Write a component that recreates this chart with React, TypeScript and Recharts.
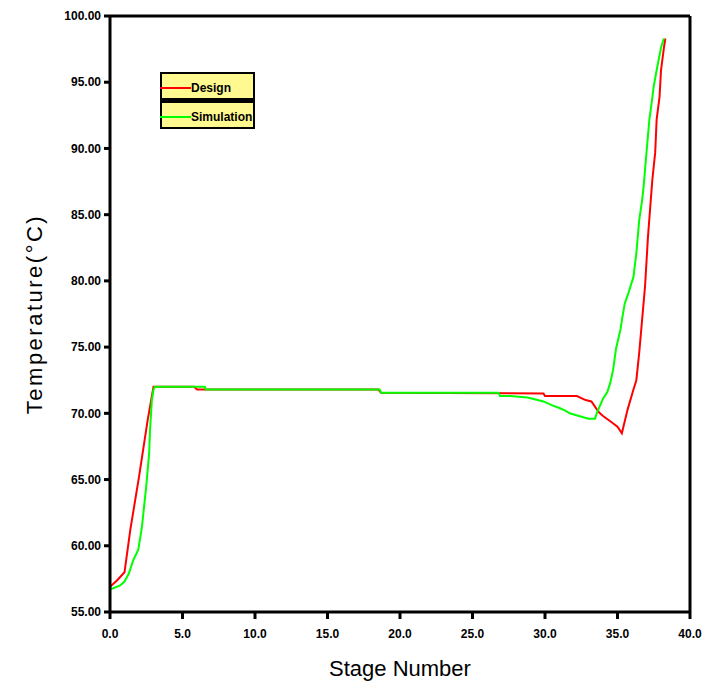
import { LineChart, Line, XAxis, YAxis, Legend, Label } from 'recharts';

// stage positions and temperatures
const designStage = [0, 0.5, 1.0, 1.4, 2.0, 2.6, 3.0, 5.8, 6.0, 18.5, 18.7, 29.9, 30.0, 32.2, 32.8, 33.2, 33.7, 34.0, 34.5, 35.0, 35.3, 35.7, 36.1, 36.3, 36.5, 36.7, 36.9, 37.1, 37.4, 37.6, 37.7, 37.9, 38.0, 38.2, 38.3];
const designTemp = [56.9, 57.4, 58.0, 61.2, 65.2, 69.5, 72.0, 72.0, 71.8, 71.8, 71.55, 71.5, 71.3, 71.3, 71.0, 70.9, 70.1, 69.8, 69.4, 69.0, 68.5, 70.3, 71.8, 72.5, 74.6, 77.1, 79.6, 83.3, 87.6, 89.7, 92.2, 93.9, 95.9, 97.6, 98.3];

const simStage = [0, 0.7, 1.0, 1.3, 1.6, 1.95, 2.2, 2.5, 2.7, 2.76, 2.88, 3.0, 3.1, 6.55, 6.6, 18.6, 18.7, 26.8, 26.9, 27.6, 28.8, 29.9, 30.5, 31.0, 31.4, 31.7, 33.0, 33.45, 33.6, 33.8, 34.0, 34.3, 34.5, 34.7, 34.9, 35.2, 35.3, 35.5, 35.7, 36.1, 36.3, 36.5, 36.7, 36.8, 37.0, 37.2, 37.35, 37.5, 37.7, 38.0, 38.2];
const simTemp = [56.7, 57.0, 57.3, 57.9, 58.9, 59.7, 61.4, 64.5, 67.0, 68.7, 70.9, 71.8, 72.0, 72.0, 71.8, 71.8, 71.55, 71.55, 71.3, 71.3, 71.2, 70.9, 70.6, 70.4, 70.2, 70.0, 69.6, 69.6, 70.1, 70.6, 71.1, 71.6, 72.3, 73.3, 74.9, 76.3, 77.0, 78.3, 78.9, 80.3, 82.1, 84.6, 86.1, 87.1, 89.7, 92.2, 93.4, 94.7, 95.9, 97.6, 98.3];

const xTicks = [0, 5, 10, 15, 20, 25, 30, 35, 40];
const yTicks = [55, 60, 65, 70, 75, 80, 85, 90, 95, 100];

const designData = designStage.map((s, i) => ({ stage: s, temp: designTemp[i] }));
const simData = simStage.map((s, i) => ({ stage: s, temp: simTemp[i] }));

const tickStyle = { fontFamily: 'Liberation Sans, Arial, sans-serif', fontSize: 12, fontWeight: 700, fill: '#000' };

function LegendBox({ payload }: any) {
  return (
    <div style={{ border: '2px solid #000', background: '#000', width: 91, fontFamily: 'Liberation Sans, Arial, sans-serif' }}>
      {(payload || []).map((p: any, i: number) => (
        <div
          key={p.value}
          style={{
            background: '#fff98f',
            height: 24,
            marginTop: i === 0 ? 0 : 5,
            display: 'flex',
            alignItems: 'center',
            paddingTop: 3,
            boxSizing: 'border-box',
          }}
        >
          <span style={{ display: 'inline-block', width: 31, height: 2, background: p.color, marginLeft: -2 }} />
          <span style={{ fontSize: 12, fontWeight: 700, color: '#000', lineHeight: '12px' }}>{p.value}</span>
        </div>
      ))}
    </div>
  );
}

export default function App() {
  return (
    <div style={{ position: 'absolute', left: 0, top: 0, background: '#fff' }}>
      <LineChart width={710} height={688} margin={{ top: 15, right: 19, left: 0, bottom: 0 }}>
        <XAxis
          dataKey="stage"
          type="number"
          domain={[0, 40]}
          ticks={xTicks}
          tickFormatter={(v) => v.toFixed(1)}
          height={76}
          tick={tickStyle}
          tickSize={7}
          tickMargin={10}
          axisLine={{ stroke: '#000', strokeWidth: 3 }}
          tickLine={{ stroke: '#000', strokeWidth: 3 }}
          allowDataOverflow
        >
          <Label
            content={({ viewBox }: any) => (
              <text
                x={viewBox.x + viewBox.width / 2}
                y={viewBox.y + 64}
                textAnchor="middle"
                fontFamily="Liberation Sans, Arial, sans-serif"
                fontSize={22}
                fill="#000"
              >
                Stage Number
              </text>
            )}
          />
        </XAxis>
        <XAxis
          xAxisId="top"
          orientation="top"
          type="number"
          domain={[0, 40]}
          height={1}
          tick={false}
          tickLine={false}
          axisLine={{ stroke: '#000', strokeWidth: 3 }}
        />
        <YAxis
          type="number"
          domain={[55, 100]}
          ticks={yTicks}
          tickFormatter={(v) => v.toFixed(2)}
          width={110}
          tick={tickStyle}
          tickSize={6}
          tickMargin={3}
          axisLine={{ stroke: '#000', strokeWidth: 3 }}
          tickLine={{ stroke: '#000', strokeWidth: 3 }}
          allowDataOverflow
        >
          <Label
            content={({ viewBox }: any) => {
              const cx = viewBox.x + 34;
              const cy = viewBox.y + viewBox.height / 2;
              return (
                <text
                  x={cx}
                  y={cy}
                  transform={`rotate(-90 ${cx} ${cy})`}
                  textAnchor="middle"
                  dominantBaseline="central"
                  fontFamily="Liberation Sans, Arial, sans-serif"
                  fontSize={22}
                  letterSpacing={2.5}
                  fill="#000"
                >
                  Temperature(°C)
                </text>
              );
            }}
          />
        </YAxis>
        <YAxis
          yAxisId="right"
          orientation="right"
          type="number"
          domain={[55, 100]}
          width={1}
          tick={false}
          tickLine={false}
          axisLine={{ stroke: '#000', strokeWidth: 3 }}
        />
        <Legend
          layout="vertical"
          verticalAlign="middle"
          align="center"
          wrapperStyle={{ position: 'absolute', left: 160, top: 72, width: 95 }}
          content={<LegendBox />}
        />
        <Line
          data={designData}
          dataKey="temp"
          name="Design"
          type="linear"
          stroke="#ff0000"
          strokeWidth={2}
          dot={false}
          isAnimationActive={false}
        />
        <Line
          data={simData}
          dataKey="temp"
          name="Simulation"
          type="linear"
          stroke="#00ff00"
          strokeWidth={2}
          dot={false}
          isAnimationActive={false}
        />
      </LineChart>
    </div>
  );
}
